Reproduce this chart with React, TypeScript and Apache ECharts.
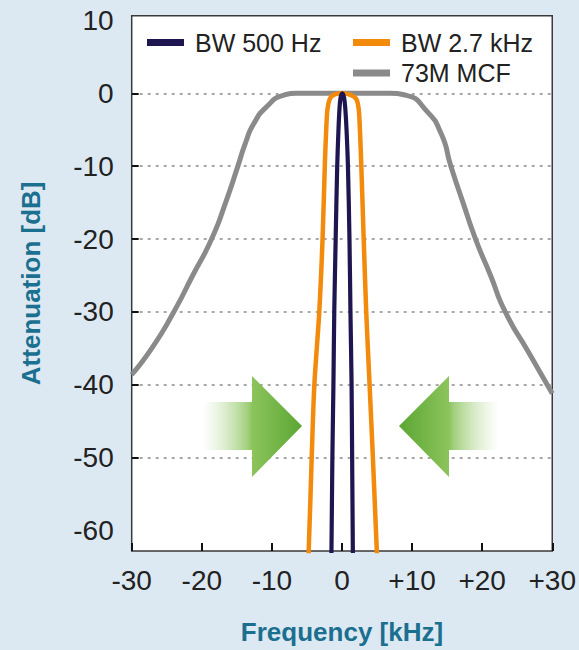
import React, { useEffect, useRef } from 'react';
import * as echarts from 'echarts';

const seriesNames = ['BW 500 Hz', 'BW 2.7 kHz', '73M MCF'];
const seriesColors = ['#1d1650', '#f28a0c', '#8a8a8a'];
const xTickValues = [-30, -20, -10, 0, 10, 20, 30];
const xTickLabels = ['-30', '-20', '-10', '0', '+10', '+20', '+30'];
const yLabelValues = [10, 0, -10, -20, -30, -40, -50, -60];
const yTickValues = [0, -10, -20, -30, -40, -50];

// [frequency kHz, attenuation dB]
const bw500: [number, number][] = [
  [-1.6, -70], [-1.5, -62.8], [-1.37, -50], [-1.22, -40], [-1.1, -30], [-0.9, -20],
  [-0.68, -10], [-0.5, -5], [-0.36, -2.2], [-0.2, -0.6], [0.05, 0], [0.3, -0.6],
  [0.48, -2.2], [0.65, -5], [0.85, -10], [1.07, -20], [1.21, -30], [1.37, -40],
  [1.45, -50], [1.55, -62.8], [1.6, -70],
];

const bw27: [number, number][] = [
  [-5.1, -70], [-4.75, -62.8], [-4.32, -50], [-3.94, -40], [-3.24, -30], [-2.77, -20],
  [-2.45, -10], [-2.25, -5], [-2.07, -2.2], [-1.75, -0.8], [-1.2, -0.22], [0, 0],
  [1.2, -0.22], [2.05, -0.8], [2.39, -2.2], [2.56, -5], [2.76, -10], [3.1, -20],
  [3.46, -30], [3.94, -40], [4.41, -50], [4.97, -62.8], [5.3, -70],
];

const mcf73: [number, number][] = [
  [-30, -38.6], [-27, -34.8], [-24, -30], [-21.3, -25], [-18.6, -20], [-16.6, -15],
  [-14.85, -10], [-13.8, -6.9], [-12.6, -4.2], [-10.8, -1.9], [-8.4, -0.3], [-6.5, 0],
  [-3, 0], [0, 0], [3, 0], [6.85, 0], [9.2, -0.3], [12.0, -2.35], [14.13, -5.5],
  [15.54, -10], [17.27, -15], [19.06, -20], [21.2, -25], [23.3, -30], [26.6, -35.5],
  [30, -41.2],
];

const FONT = '"Liberation Sans", Arial, Helvetica, sans-serif';
const TEAL = '#1b6f8f';

export default function App() {
  const ref = useRef<HTMLDivElement>(null);

  useEffect(() => {
    if (!ref.current) return;
    const chart = echarts.init(ref.current, undefined, { renderer: 'svg' });

    const gridLeft = 131.7;
    const gridTop = 15.7;
    const gridW = 426;
    const gridH = 542.6;

    const arrowY = 426;
    const grad = (x0: number, x1: number) =>
      new echarts.graphic.LinearGradient(x0, 0, x1, 0, [
        { offset: 0, color: 'rgba(190,222,160,0)' },
        { offset: 0.45, color: 'rgba(140,196,95,0.8)' },
        { offset: 0.5, color: '#8cc45c' },
        { offset: 1, color: '#5ba633' },
      ]);
    const mkLeftArrow = () => ({
      type: 'polygon',
      shape: {
        points: [
          [203, arrowY - 24], [252, arrowY - 24], [252, arrowY - 50], [302, arrowY],
          [252, arrowY + 51], [252, arrowY + 24], [203, arrowY + 24],
        ],
      },
      style: { fill: grad(0, 1) },
      silent: true,
      z: 10,
    });
    const mkRightArrow = () => ({
      type: 'polygon',
      shape: {
        points: [
          [499, arrowY - 24], [449, arrowY - 24], [449, arrowY - 50], [399, arrowY],
          [449, arrowY + 51], [449, arrowY + 24], [499, arrowY + 24],
        ],
      },
      style: { fill: grad(1, 0) },
      silent: true,
      z: 10,
    });

    const legendBase = {
      orient: 'horizontal',
      padding: 0,
      itemWidth: 37,
      itemHeight: 7,
      itemGap: 0,
      icon: 'rect',
      selectedMode: false,
      textStyle: { fontSize: 25, color: '#222', fontFamily: FONT, padding: [0, 0, 0, 6] },
    };

    const lineSeries = (idx: number, data: [number, number][], width: number, smooth: number) => ({
      type: 'line',
      name: seriesNames[idx],
      data,
      smooth,
      showSymbol: false,
      symbol: 'none',
      clip: true,
      lineStyle: { color: seriesColors[idx], width },
      itemStyle: { color: seriesColors[idx] },
      z: idx === 2 ? 2 : idx === 1 ? 3 : 4,
    });

    chart.setOption({
      animation: false,
      backgroundColor: '#dde9f2',
      textStyle: { fontFamily: FONT },
      grid: {
        left: gridLeft,
        top: gridTop,
        width: gridW,
        height: gridH,
        show: true,
        backgroundColor: '#ffffff',
        borderColor: '#3a3a3a',
        borderWidth: 1.5,
        containLabel: false,
      },
      legend: [
        { ...legendBase, left: 147, top: 30, data: [seriesNames[0]] },
        { ...legendBase, left: 353, top: 30, data: [seriesNames[1]] },
        { ...legendBase, left: 353, top: 60.5, data: [seriesNames[2]] },
      ],
      xAxis: {
        type: 'value',
        min: -30,
        max: 30,
        interval: 10,
        name: 'Frequency [kHz]',
        nameLocation: 'middle',
        nameGap: 68,
        nameTextStyle: { color: TEAL, fontSize: 26, fontWeight: 'bold', fontFamily: FONT },
        axisLine: { show: false, onZero: false },
        axisTick: { show: true, inside: true, length: 8, lineStyle: { color: '#111', width: 2 } },
        splitLine: { show: false },
        axisLabel: {
          fontSize: 28,
          color: '#222',
          margin: 15,
          fontFamily: FONT,
          formatter: (v: number) => {
            const i = xTickValues.indexOf(v);
            return i >= 0 ? xTickLabels[i] : '';
          },
        },
      },
      yAxis: {
        type: 'value',
        min: -62.8,
        max: 10.64,
        name: 'Attenuation [dB]',
        nameLocation: 'middle',
        nameRotate: 90,
        nameGap: 88,
        nameTextStyle: { color: TEAL, fontSize: 26, fontWeight: 'bold', fontFamily: FONT },
        axisLine: { show: false, onZero: false },
        axisTick: {
          show: true,
          inside: true,
          length: 7,
          customValues: yTickValues,
          lineStyle: { color: '#111', width: 2 },
        },
        splitLine: {
          show: true,
          lineStyle: { color: '#8c8c8c', width: 1.5, type: [3, 5] },
        },
        axisLabel: {
          customValues: yLabelValues,
          fontSize: 28,
          color: '#222',
          margin: 18,
          padding: [8, 0, 0, 0],
          fontFamily: FONT,
        },
      },
      series: [
        lineSeries(2, mcf73, 5, 0.6),
        lineSeries(1, bw27, 4.5, 0.3),
        lineSeries(0, bw500, 4.2, 0.3),
      ],
      graphic: [mkLeftArrow(), mkRightArrow()],
    });

    return () => {
      chart.dispose();
    };
  }, []);

  return (
    <div
      ref={ref}
      style={{ position: 'fixed', left: 0, top: 0, width: 579, height: 650, background: '#dde9f2' }}
    />
  );
}
